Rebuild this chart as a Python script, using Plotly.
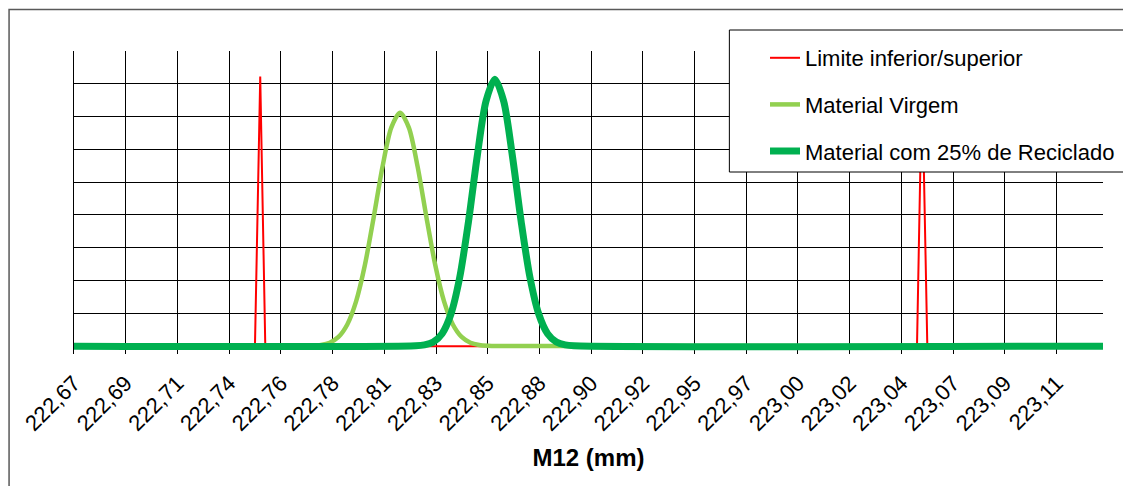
import plotly.graph_objects as go

# ---- axis / tick labels ----
x_start = 222.666
label_step = 0.02352
x_end = 223.134
tick_labels = ["222,67", "222,69", "222,71", "222,74", "222,76", "222,78", "222,81",
               "222,83", "222,85", "222,88", "222,90", "222,92", "222,95", "222,97",
               "223,00", "223,02", "223,04", "223,07", "223,09", "223,11"]

# ---- series ----
limit_x = [222.6660, 222.7483, 222.7507, 222.7530, 223.0494, 223.0517, 223.0541, 223.1340]
limit_y = [0, 0, 41.1, 0, 0, 41.1, 0, 0]

virgem_x = [222.6660,
            222.7703, 222.7743, 222.7783, 222.7823, 222.7863, 222.7903, 222.7943, 222.7983,
            222.8023, 222.8063, 222.8103, 222.8143, 222.8183, 222.8223, 222.8263, 222.8303,
            222.8343, 222.8383, 222.8423, 222.8463, 222.8503, 222.8543, 222.8583,
            223.1340]
virgem_y = [0,
            0.01, 0.05, 0.17, 0.52, 1.40, 3.30, 6.82, 12.36,
            19.64, 27.33, 33.32, 35.6, 33.32, 27.33, 19.64, 12.36,
            6.82, 3.30, 1.40, 0.52, 0.17, 0.05, 0.01,
            0]

recic_x = [222.6660,
           222.8214, 222.8254, 222.8294, 222.8334, 222.8374, 222.8414, 222.8454, 222.8494,
           222.8534, 222.8574, 222.8614, 222.8654, 222.8694, 222.8734, 222.8774, 222.8814,
           222.8854, 222.8894, 222.8934,
           223.1340]
recic_y = [0,
           0.04, 0.18, 0.63, 1.90, 4.86, 10.44, 18.94, 28.97,
           37.38, 40.7, 37.38, 28.97, 18.94, 10.44, 4.86, 1.90,
           0.63, 0.18, 0.04,
           0]

FONT = "Liberation Sans, Arial, sans-serif"

fig = go.Figure()
fig.add_trace(go.Scatter(x=limit_x, y=limit_y, mode="lines", name="Limite inferior/superior",
                         line=dict(color="#FF0000", width=2), legendgroup="a"))
fig.add_trace(go.Scatter(x=virgem_x, y=virgem_y, mode="lines", name="Material Virgem",
                         line=dict(color="#92D050", width=4.5, shape="spline", smoothing=0.8),
                         legendgroup="b"))
fig.add_trace(go.Scatter(x=recic_x, y=recic_y, mode="lines", name="Material com 25% de Reciclado",
                         line=dict(color="#00B050", width=7, shape="spline", smoothing=0.8),
                         legendgroup="c"))

tickvals = [x_start + i * label_step for i in range(len(tick_labels))]

# page has an 8px body margin: figure is 1123x478, drawn at screen offset (8, 8)
OFF = 8
W, H = 1131 - OFF, 486 - OFF
# plot area on screen: x 74..1104, y 51..354
L, R = 74 - OFF, W - (1104 - OFF)
T, B = 51 - OFF, H - (354 - OFF)
pw, ph = 1104 - 74, 354 - 51

def px(x):  # screen pixel -> paper x
    return (x - 74) / pw

def py(y):  # screen pixel -> paper y
    return (354 - y) / ph

fig.update_layout(
    width=W, height=H,
    margin=dict(l=L, r=R, t=T, b=B),
    paper_bgcolor="white", plot_bgcolor="white",
    font=dict(family=FONT, color="black"),
    showlegend=True,
    legend=dict(x=px(765), y=py(37), xanchor="left", yanchor="top",
                bgcolor="rgba(0,0,0,0)", borderwidth=0,
                font=dict(family=FONT, size=22, color="black"),
                tracegroupgap=15),
    xaxis=dict(range=[x_start, x_end], tickmode="array", tickvals=tickvals, ticktext=tick_labels,
               tickangle=-45, ticks="", showgrid=True, gridcolor="black", gridwidth=1,
               zeroline=False, showline=False, ticklabelstandoff=11,
               tickfont=dict(family=FONT, size=22, color="black"),
               title=dict(text="<b>M12 (mm)</b>", font=dict(family=FONT, size=24, color="black"),
                          standoff=14)),
    yaxis=dict(range=[-1.2, 45], tick0=0, dtick=5, showticklabels=False, ticks="",
               showgrid=True, gridcolor="black", gridwidth=1, zeroline=False,
               showline=True, linecolor="black", linewidth=1),
    shapes=[
        dict(type="rect", xref="paper", yref="paper",
             x0=px(9), x1=px(1140), y0=py(495), y1=py(9.5),
             line=dict(color="#595959", width=1.5), fillcolor="rgba(0,0,0,0)", layer="below"),
        dict(type="rect", xref="paper", yref="paper",
             x0=px(730), x1=px(1125), y0=py(172), y1=py(30),
             line=dict(color="black", width=1), fillcolor="white", layer="above"),
    ],
)

fig.write_html("out.html")
